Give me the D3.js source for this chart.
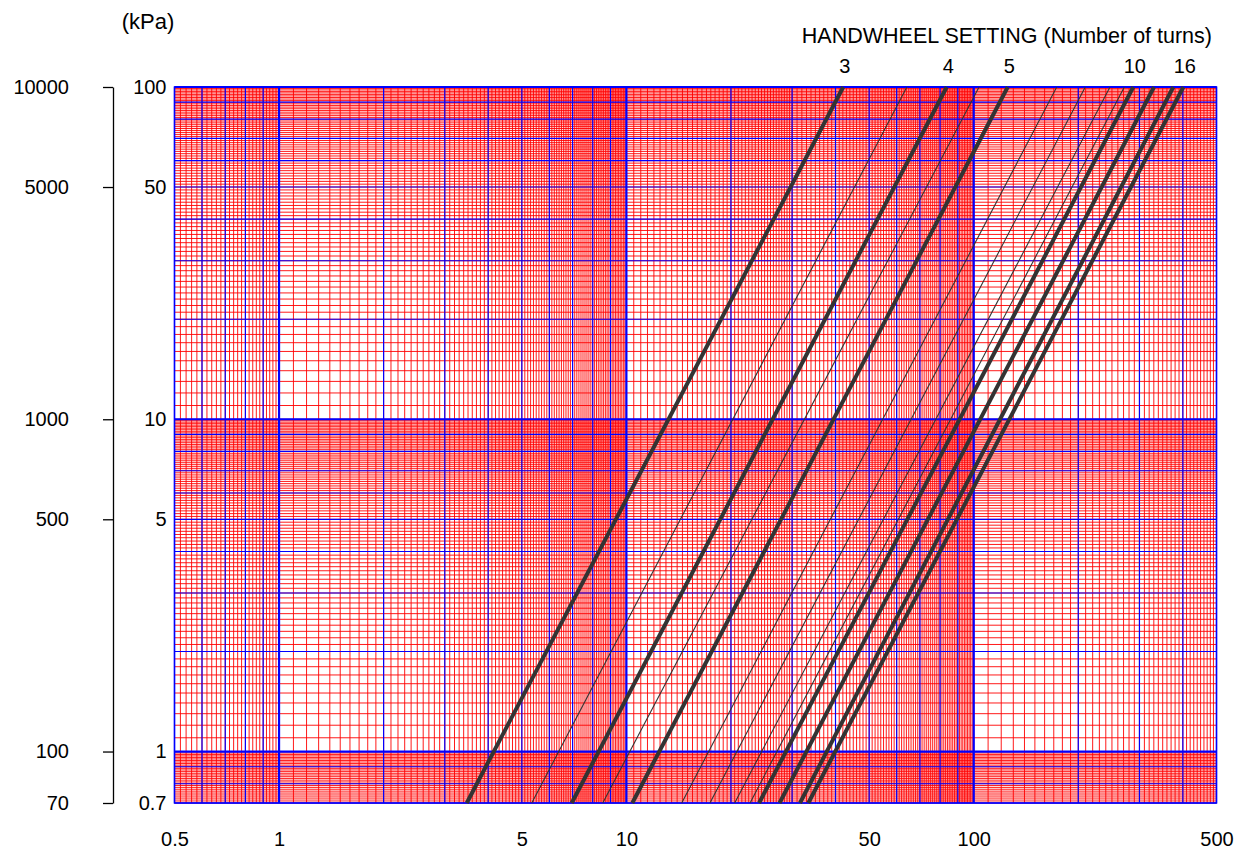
<!DOCTYPE html>
<html>
<head>
<meta charset="utf-8">
<script src="https://cdn.jsdelivr.net/npm/d3@7"></script>
<style>
  body { margin: 0; background: #fff; }
  text { font-family: "Liberation Sans", Arial, sans-serif; fill: #000; }
  .axis path, .axis line { stroke: #000; stroke-width: 1.3; }
  .axis text { font-size: 20px; }
</style>
</head>
<body>
<div class="chart"></div>
<script>
const width = 1248;
const height = 850;

// handwheel setting (turns) for each curve
const turns = [3, 3.5, 4, 4.5, 5, 6, 7, 8, 9, 10, 12, 14, 16];
const thickTurns = [3, 4, 5, 10, 12, 14, 16];
const labeledTurns = [3, 4, 5, 10, 16];
// flow read at bottom edge (0.7) and at top edge (100)
const flowAtBottom = [3.47, 5.34, 6.96, 8.55, 10.4, 14.43, 17.4, 20.5, 22.7, 24.1, 27.6, 31.6, 33.4];
const flowAtTop = [42.1, 64.2, 83.6, 103.6, 125.3, 173.4, 209.5, 246.8, 271.4, 288, 330.4, 375.5, 401.4];

const xTicks = [0.5, 1, 5, 10, 50, 100, 500];
const yTicks = [0.7, 1, 5, 10, 50, 100];
const kpaTicks = [70, 100, 500, 1000, 5000, 10000];

// grid spacing per range: [from, to, step]
const xMinorSteps = [[0.5, 1, 0.02], [1, 10, 0.1], [10, 30, 0.5], [30, 100, 1], [100, 500, 10]];
const xMajorSteps = [[0.5, 1, 0.1], [1, 10, 1], [10, 100, 10], [100, 500, 100]];
const yMinorSteps = [[0.7, 1, 0.01], [1, 10, 0.1], [10, 100, 1]];
const yMajorSteps = [[0.7, 1, 0.1], [1, 10, 1], [10, 100, 10]];
const decades = [1, 10, 100];

const pLeft = 174.5, pRight = 1216.5, pTop = 87, pBottom = 803;

const x = d3.scaleLog().domain([0.5, 500]).range([pLeft, pRight]);
const y = d3.scaleLog().domain([0.7, 100]).range([pBottom, pTop]);
const yKpa = d3.scaleLog().domain([70, 10000]).range([pBottom, pTop]);

function stepValues(list) {
  let out = [];
  list.forEach(([a, b, s]) => {
    const n = Math.round((b - a) / s);
    for (let i = 0; i <= n; i++) out.push(+(a + i * s).toFixed(6));
  });
  return Array.from(new Set(out));
}

const svg = d3.select(".chart").append("svg")
  .attr("width", width)
  .attr("height", height);

const grid = svg.append("g");

// red minor grid
grid.selectAll(".xminor").data(stepValues(xMinorSteps)).enter()
  .append("line")
  .attr("x1", d => x(d)).attr("x2", d => x(d))
  .attr("y1", pTop).attr("y2", pBottom)
  .attr("stroke", "#ff0000").attr("stroke-width", 0.9);

grid.selectAll(".yminor").data(stepValues(yMinorSteps)).enter()
  .append("line")
  .attr("x1", pLeft).attr("x2", pRight)
  .attr("y1", d => y(d)).attr("y2", d => y(d))
  .attr("stroke", "#ff0000").attr("stroke-width", 0.9);

// blue major grid
grid.selectAll(".xmajor").data(stepValues(xMajorSteps)).enter()
  .append("line")
  .attr("x1", d => x(d)).attr("x2", d => x(d))
  .attr("y1", pTop).attr("y2", pBottom)
  .attr("stroke", "#0000ff")
  .attr("stroke-width", d => decades.includes(d) ? 2.2 : 1.2);

grid.selectAll(".ymajor").data(stepValues(yMajorSteps)).enter()
  .append("line")
  .attr("x1", pLeft).attr("x2", pRight)
  .attr("y1", d => y(d)).attr("y2", d => y(d))
  .attr("stroke", "#0000ff")
  .attr("stroke-width", d => decades.includes(d) ? 2.2 : 1.2);

grid.append("rect")
  .attr("x", pLeft).attr("y", pTop)
  .attr("width", pRight - pLeft).attr("height", pBottom - pTop)
  .attr("fill", "none").attr("stroke", "#0000ff").attr("stroke-width", 1.5);

// handwheel curves
svg.append("g").selectAll("line.curve").data(turns).enter()
  .append("line")
  .attr("class", "curve")
  .attr("x1", (d, i) => x(flowAtBottom[i]))
  .attr("y1", y(0.7))
  .attr("x2", (d, i) => x(flowAtTop[i]))
  .attr("y2", y(100))
  .attr("stroke", "#333")
  .attr("stroke-width", d => thickTurns.includes(d) ? 4 : 1.1);

// turn labels
svg.append("g").selectAll("text").data(labeledTurns).enter()
  .append("text")
  .attr("x", d => x(flowAtTop[turns.indexOf(d)]) + 1.5)
  .attr("y", 73)
  .attr("text-anchor", "middle")
  .style("font-size", "20px")
  .text(d => d);

svg.append("text")
  .attr("x", 1212).attr("y", 43)
  .attr("text-anchor", "end")
  .style("font-size", "21.5px")
  .text("HANDWHEEL SETTING (Number of turns)");

svg.append("text")
  .attr("x", 148).attr("y", 29)
  .attr("text-anchor", "middle")
  .style("font-size", "22px")
  .text("(kPa)");

// axes
const xAxis = d3.axisBottom(x).tickValues(xTicks).tickSize(0).tickPadding(29)
  .tickFormat(d3.format("~g"));
svg.append("g").attr("class", "axis")
  .attr("transform", `translate(0,${pBottom})`)
  .call(xAxis)
  .call(g => g.select(".domain").remove());

const yAxis = d3.axisLeft(y).tickValues(yTicks).tickSize(0).tickPadding(8)
  .tickFormat(d3.format("~g"));
svg.append("g").attr("class", "axis")
  .attr("transform", `translate(${pLeft},0)`)
  .call(yAxis)
  .call(g => g.select(".domain").remove());

const kpaAxis = d3.axisLeft(yKpa).tickValues(kpaTicks).tickSize(10).tickSizeOuter(0)
  .tickPadding(34).tickFormat(d3.format("d"));
svg.append("g").attr("class", "axis")
  .attr("transform", "translate(113,0)")
  .call(kpaAxis);
</script>
</body>
</html>
